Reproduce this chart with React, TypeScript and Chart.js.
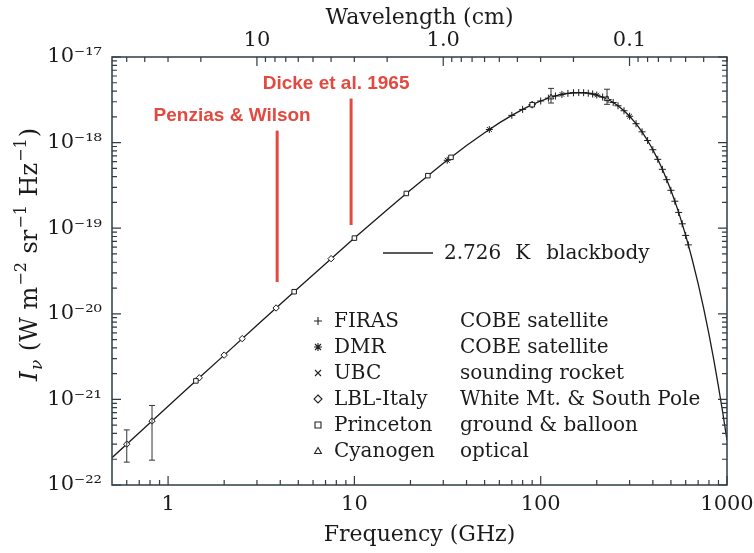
import React, { useEffect, useRef } from "react";
import { Chart, registerables } from "chart.js";

Chart.register(...registerables);

const SERIF = '"DejaVu Serif", "Liberation Serif", serif';
const SANS = '"Liberation Sans", Arial, sans-serif';
const TEXT = "#1b1b1b";
const AXIS = "#2f3d46";
const RED = "#e4483e";

// ---- axis ticks ----
const xTickValues = [1, 10, 100, 1000];
const xTickLabels = ["1", "10", "100", "1000"];
const xMinorValues = [0.6, 0.7, 0.8, 0.9, 2, 3, 4, 5, 6, 7, 8, 9, 20, 30, 40, 50, 60, 70, 80, 90, 200, 300, 400, 500, 600, 700, 800, 900];
const yTickValues = [1e-22, 1e-21, 1e-20, 1e-19, 1e-18, 1e-17];
const yTickLabels = ["10⁻²²", "10⁻²¹", "10⁻²⁰", "10⁻¹⁹", "10⁻¹⁸", "10⁻¹⁷"];
const yMinorMultipliers = [2, 3, 4, 5, 6, 7, 8, 9];
const waveTickValues = [10, 1.0, 0.1];
const waveTickLabels = ["10", "1.0", "0.1"];
const waveMinorValues = [50, 40, 30, 20, 9, 8, 7, 6, 5, 4, 3, 2, 0.9, 0.8, 0.7, 0.6, 0.5, 0.4, 0.3, 0.2, 0.09, 0.08, 0.07, 0.06, 0.05, 0.04, 0.03];
const C_CM_GHZ = 29.98; // wavelength (cm) * frequency (GHz)

// ---- 2.726 K blackbody curve (GHz, W m^-2 sr^-1 Hz^-1) ----
const curveFreq = [0.5, 0.7, 1, 1.5, 2, 3, 5, 7, 10, 15, 20, 30, 40, 50, 60, 70, 80, 90, 100, 110, 120, 130, 140, 150, 160, 170, 180, 190, 200, 215, 230, 245, 260, 280, 300, 325, 350, 375, 400, 425, 450, 475, 500, 525, 550, 575, 600, 620, 650, 700, 750, 800, 850, 900, 950, 1000];
const curveI = [2.085e-22, 4.079e-22, 8.302e-22, 1.86e-21, 3.292e-21, 7.34e-21, 2.003e-20, 3.85e-20, 7.66e-20, 1.647e-19, 2.795e-19, 5.722e-19, 9.231e-19, 1.306e-18, 1.698e-18, 2.082e-18, 2.444e-18, 2.773e-18, 3.062e-18, 3.307e-18, 3.505e-18, 3.655e-18, 3.76e-18, 3.821e-18, 3.841e-18, 3.824e-18, 3.774e-18, 3.696e-18, 3.594e-18, 3.405e-18, 3.183e-18, 2.943e-18, 2.692e-18, 2.357e-18, 2.034e-18, 1.663e-18, 1.336e-18, 1.057e-18, 8.257e-19, 6.376e-19, 4.873e-19, 3.69e-19, 2.771e-19, 2.066e-19, 1.529e-19, 1.125e-19, 8.233e-20, 6.388e-20, 4.341e-20, 2.248e-20, 1.147e-20, 5.77e-21, 2.87e-21, 1.413e-21, 6.889e-22, 3.332e-22];

// ---- measurements ----
const firasFreq = [70, 80, 90, 100, 110, 120, 130, 140, 150, 160, 170, 180, 190, 200, 215, 230, 245, 260, 280, 300, 325, 350, 375, 400, 425, 450, 475, 500, 525, 550, 575, 600, 620];
const firasI = [2.082e-18, 2.444e-18, 2.773e-18, 3.062e-18, 3.307e-18, 3.505e-18, 3.655e-18, 3.76e-18, 3.821e-18, 3.841e-18, 3.824e-18, 3.774e-18, 3.696e-18, 3.594e-18, 3.405e-18, 3.183e-18, 2.943e-18, 2.692e-18, 2.357e-18, 2.034e-18, 1.663e-18, 1.336e-18, 1.057e-18, 8.257e-19, 6.376e-19, 4.873e-19, 3.69e-19, 2.771e-19, 2.066e-19, 1.529e-19, 1.125e-19, 8.233e-20, 6.388e-20];
const dmrFreq = [31.5, 53, 90];
const dmrI = [6.218e-19, 1.423e-18, 2.773e-18];
const ubcFreq = [130, 200, 300];
const ubcI = [3.655e-18, 3.594e-18, 2.034e-18];
const lblFreq = [0.6, 0.82, 1.47, 2.0, 2.5, 3.8, 7.5];
const lblI = [2.999e-22, 5.591e-22, 1.787e-21, 3.292e-21, 5.12e-21, 1.169e-20, 4.407e-20];
const lblErrLo = [1.85e-22, 1.95e-22, null, null, null, null, null];
const lblErrHi = [4.4e-22, 8.5e-22, null, null, null, null, null];
const princetonFreq = [1.41, 4.75, 10, 19, 24.8, 33, 90];
const princetonI = [1.645e-21, 1.812e-20, 7.66e-20, 2.546e-19, 4.108e-19, 6.726e-19, 2.773e-18];
const cyanFreq = [113.6, 227];
const cyanI = [3.383e-18, 3.231e-18];
const cyanErrLo = [2.9e-18, 2.8e-18];
const cyanErrHi = [4.3e-18, 4.2e-18];

// ---- historical detections (red lines) ----
const pwFreq = 3.85;
const pwRange = [2.35e-20, 1.38e-18];
const dickeFreq = 9.6;
const dickeRange = [1.09e-19, 3.27e-18];

// ---- legend ----
const legendStyles = ["plus", "star", "x", "diamond", "square", "triangle"];
const legendNames = ["FIRAS", "DMR", "UBC", "LBL-Italy", "Princeton", "Cyanogen"];
const legendDescs = ["COBE satellite", "COBE satellite", "sounding rocket", "White Mt. & South Pole", "ground & balloon", "optical"];

const pts = (xs: number[], ys: number[]) => xs.map((x, i) => ({ x, y: ys[i] }));

function drawSymbol(ctx: CanvasRenderingContext2D, style: string, x: number, y: number, r: number) {
  ctx.beginPath();
  if (style === "plus") {
    ctx.moveTo(x - r, y); ctx.lineTo(x + r, y);
    ctx.moveTo(x, y - r); ctx.lineTo(x, y + r);
  } else if (style === "star") {
    ctx.moveTo(x - r, y); ctx.lineTo(x + r, y);
    ctx.moveTo(x, y - r); ctx.lineTo(x, y + r);
    const d = r * 0.75;
    ctx.moveTo(x - d, y - d); ctx.lineTo(x + d, y + d);
    ctx.moveTo(x - d, y + d); ctx.lineTo(x + d, y - d);
  } else if (style === "x") {
    const d = r * 0.75;
    ctx.moveTo(x - d, y - d); ctx.lineTo(x + d, y + d);
    ctx.moveTo(x - d, y + d); ctx.lineTo(x + d, y - d);
  } else if (style === "diamond") {
    ctx.moveTo(x, y - r); ctx.lineTo(x + r, y); ctx.lineTo(x, y + r); ctx.lineTo(x - r, y); ctx.closePath();
  } else if (style === "square") {
    const d = r * 0.75;
    ctx.rect(x - d, y - d, 2 * d, 2 * d);
  } else if (style === "triangle") {
    const d = r * 0.85;
    ctx.moveTo(x, y - d); ctx.lineTo(x + d, y + d * 0.75); ctx.lineTo(x - d, y + d * 0.75); ctx.closePath();
  }
  ctx.stroke();
}

function drawErrorBars(ctx: CanvasRenderingContext2D, xs: any, ys: any, freq: number[], lo: (number | null)[], hi: (number | null)[]) {
  freq.forEach((f, i) => {
    const l = lo[i], h = hi[i];
    if (l == null || h == null) return;
    const px = xs.getPixelForValue(f);
    const py1 = ys.getPixelForValue(l);
    const py2 = ys.getPixelForValue(h);
    ctx.beginPath();
    ctx.moveTo(px, py1); ctx.lineTo(px, py2);
    ctx.moveTo(px - 3, py1); ctx.lineTo(px + 3, py1);
    ctx.moveTo(px - 3, py2); ctx.lineTo(px + 3, py2);
    ctx.stroke();
  });
}

const decorPlugin = {
  id: "decor",
  afterDatasetsDraw(chart: any) {
    const { ctx, chartArea: a, scales } = chart;
    const xs = scales.x, ys = scales.y;
    ctx.save();
    // error bars
    ctx.strokeStyle = "#333";
    ctx.lineWidth = 1;
    drawErrorBars(ctx, xs, ys, lblFreq, lblErrLo, lblErrHi);
    drawErrorBars(ctx, xs, ys, cyanFreq, cyanErrLo, cyanErrHi);

    // frame
    ctx.strokeStyle = AXIS;
    ctx.lineWidth = 1.5;
    ctx.strokeRect(a.left, a.top, a.right - a.left, a.bottom - a.top);

    // ticks (inward)
    ctx.lineWidth = 1.2;
    const MAJ = 9, MIN = 5;
    ctx.beginPath();
    yTickValues.forEach((v) => {
      const py = ys.getPixelForValue(v);
      ctx.moveTo(a.left, py); ctx.lineTo(a.left + MAJ, py);
      ctx.moveTo(a.right, py); ctx.lineTo(a.right - MAJ, py);
    });
    yTickValues.slice(0, -1).forEach((dec) => {
      yMinorMultipliers.forEach((m) => {
        const py = ys.getPixelForValue(dec * m);
        ctx.moveTo(a.left, py); ctx.lineTo(a.left + MIN, py);
        ctx.moveTo(a.right, py); ctx.lineTo(a.right - MIN, py);
      });
    });
    xTickValues.forEach((v) => {
      const px = xs.getPixelForValue(v);
      ctx.moveTo(px, a.bottom); ctx.lineTo(px, a.bottom - MAJ);
    });
    xMinorValues.forEach((v) => {
      const px = xs.getPixelForValue(v);
      ctx.moveTo(px, a.bottom); ctx.lineTo(px, a.bottom - MIN);
    });
    waveTickValues.forEach((w) => {
      const px = xs.getPixelForValue(C_CM_GHZ / w);
      ctx.moveTo(px, a.top); ctx.lineTo(px, a.top + MAJ);
    });
    waveMinorValues.forEach((w) => {
      const px = xs.getPixelForValue(C_CM_GHZ / w);
      if (px < a.left || px > a.right) return;
      ctx.moveTo(px, a.top); ctx.lineTo(px, a.top + MIN);
    });
    ctx.stroke();
    ctx.restore();
  },
  afterDraw(chart: any) {
    const { ctx, scales } = chart;
    const xs = scales.x, ys = scales.y;
    ctx.save();

    // red labels
    ctx.fillStyle = RED;
    ctx.font = `bold 19px ${SANS}`;
    ctx.textAlign = "center";
    ctx.textBaseline = "middle";
    const pwX = xs.getPixelForValue(pwFreq), pwTop = ys.getPixelForValue(pwRange[1]);
    ctx.fillText("Penzias & Wilson", pwX - 45, pwTop - 15);
    const dkX = xs.getPixelForValue(dickeFreq), dkTop = ys.getPixelForValue(dickeRange[1]);
    ctx.fillText("Dicke et al. 1965", dkX - 15, dkTop - 15);

    // blackbody legend
    ctx.strokeStyle = "#222";
    ctx.lineWidth = 1.3;
    ctx.beginPath();
    ctx.moveTo(383, 253); ctx.lineTo(433, 253);
    ctx.stroke();
    ctx.fillStyle = TEXT;
    ctx.textAlign = "left";
    ctx.font = `20px ${SERIF}`;
    let tx = 444;
    ["2.726", "K", "blackbody"].forEach((s, i) => {
      ctx.fillText(s, tx, 254);
      tx += ctx.measureText(s).width + (i === 0 ? 14 : 16);
    });

    // instrument legend
    ctx.lineWidth = 1.1;
    ctx.strokeStyle = "#222";
    legendNames.forEach((name, i) => {
      const yy = 321 + i * 26;
      drawSymbol(ctx, legendStyles[i], 318, yy, 4);
      ctx.fillText(name, 334, yy + 1);
      ctx.fillText(legendDescs[i], 460, yy + 1);
    });

    // y-axis title
    const main = `24px ${SERIF}`;
    const sup = `16px ${SERIF}`;
    const parts = [
      { t: "I", f: `italic 25px ${SERIF}`, dy: 0 },
      { t: "ν", f: `italic 17px ${SERIF}`, dy: 5 },
      { t: " (W m", f: main, dy: 0 },
      { t: "−2", f: sup, dy: -11 },
      { t: " sr", f: main, dy: 0 },
      { t: "−1", f: sup, dy: -11 },
      { t: " Hz", f: main, dy: 0 },
      { t: "−1", f: sup, dy: -11 },
      { t: ")", f: main, dy: 0 },
    ];
    ctx.translate(37, 254);
    ctx.rotate(-Math.PI / 2);
    ctx.textBaseline = "alphabetic";
    let total = 0;
    parts.forEach((p) => { ctx.font = p.f; total += ctx.measureText(p.t).width + 1; });
    let px = -total / 2;
    parts.forEach((p) => {
      ctx.font = p.f;
      ctx.fillText(p.t, px, p.dy);
      px += ctx.measureText(p.t).width + 1;
    });
    ctx.restore();
  },
};

export default function App() {
  const ref = useRef<HTMLCanvasElement | null>(null);
  useEffect(() => {
    if (!ref.current) return;
    const tickFont = { family: SERIF, size: 21 };
    const titleFont = { family: SERIF, size: 22 };
    const markerBase = { showLine: false, borderColor: "#1a1a1a", pointBorderColor: "#1a1a1a", pointBorderWidth: 1, pointRadius: 3.2 };
    const noPad = (s: any) => { s.paddingLeft = 0; s.paddingRight = 0; s.paddingTop = 0; s.paddingBottom = 0; };
    const chart = new Chart(ref.current, {
      type: "scatter",
      data: {
        datasets: [
          { ...markerBase, label: "Cyanogen", data: pts(cyanFreq, cyanI), pointStyle: "triangle", pointBackgroundColor: "#fff" },
          { ...markerBase, label: "Princeton", data: pts(princetonFreq, princetonI), pointStyle: "rect", pointBackgroundColor: "#fff" },
          { ...markerBase, label: "LBL-Italy", data: pts(lblFreq, lblI), pointStyle: "rectRot", pointBackgroundColor: "#fff" },
          { ...markerBase, label: "UBC", data: pts(ubcFreq, ubcI), pointStyle: "crossRot" },
          { ...markerBase, label: "DMR", data: pts(dmrFreq, dmrI), pointStyle: "star", pointRadius: 3.5 },
          { ...markerBase, label: "FIRAS", data: pts(firasFreq, firasI), pointStyle: "cross", pointRadius: 3.5 },
          { label: "2.726 K blackbody", data: pts(curveFreq, curveI), showLine: true, borderColor: "#1a1a1a", borderWidth: 1.3, pointRadius: 0 },
          { label: "Penzias & Wilson", data: [{ x: pwFreq, y: pwRange[0] }, { x: pwFreq, y: pwRange[1] }], showLine: true, borderColor: RED, borderWidth: 3, pointRadius: 0 },
          { label: "Dicke et al. 1965", data: [{ x: dickeFreq, y: dickeRange[0] }, { x: dickeFreq, y: dickeRange[1] }], showLine: true, borderColor: RED, borderWidth: 3, pointRadius: 0 },
        ],
      },
      options: {
        animation: false,
        responsive: true,
        maintainAspectRatio: false,
        layout: { padding: { left: 0, right: 27, top: 0, bottom: 0 } },
        plugins: { legend: { display: false }, tooltip: { enabled: false } },
        scales: {
          x: {
            type: "logarithmic",
            position: "bottom",
            min: 0.5,
            max: 1000,
            grid: { display: false, drawTicks: false },
            border: { display: false },
            afterBuildTicks: (s: any) => { s.ticks = xTickValues.map((v) => ({ value: v })); },
            afterFit: (s: any) => { s.height = 68; noPad(s); },
            ticks: { autoSkip: false, maxRotation: 0, padding: 7, color: TEXT, font: tickFont, callback: (_v: any, i: number) => xTickLabels[i] },
            title: { display: true, text: "Frequency (GHz)", color: TEXT, font: titleFont, padding: { top: 0, bottom: 5 } },
          },
          x2: {
            type: "logarithmic",
            position: "top",
            min: 0.5,
            max: 1000,
            grid: { display: false, drawTicks: false },
            border: { display: false },
            afterBuildTicks: (s: any) => { s.ticks = waveTickValues.map((w) => ({ value: C_CM_GHZ / w })); },
            afterFit: (s: any) => { s.height = 57; noPad(s); },
            ticks: { autoSkip: false, maxRotation: 0, padding: 4, color: TEXT, font: tickFont, callback: (_v: any, i: number) => waveTickLabels[i] },
            title: { display: true, text: "Wavelength (cm)", color: TEXT, font: titleFont, padding: { top: 5, bottom: 0 } },
          },
          y: {
            type: "logarithmic",
            position: "left",
            min: 1e-22,
            max: 1e-17,
            grid: { display: false, drawTicks: false },
            border: { display: false },
            afterBuildTicks: (s: any) => { s.ticks = yTickValues.map((v) => ({ value: v })); },
            afterFit: (s: any) => { s.width = 112; noPad(s); },
            ticks: { autoSkip: false, padding: 10, color: TEXT, font: tickFont, callback: (_v: any, i: number) => yTickLabels[i] },
          },
        },
      },
      plugins: [decorPlugin],
    } as any);
    return () => chart.destroy();
  }, []);
  return (
    <div style={{ position: "fixed", left: 0, top: 0, width: 754, height: 553, background: "#fff" }}>
      <canvas ref={ref} />
    </div>
  );
}
